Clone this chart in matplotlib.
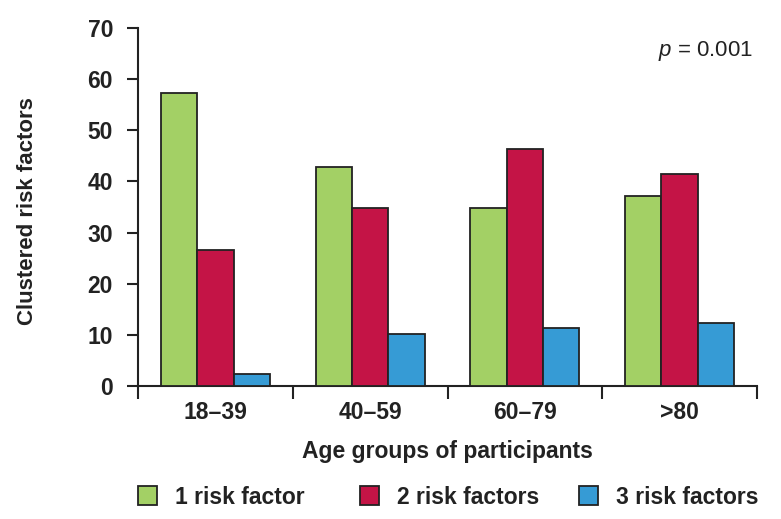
import matplotlib.pyplot as plt
import numpy as np
from matplotlib.patches import Patch

plt.rcParams['font.family'] = ['Liberation Sans', 'DejaVu Sans']
plt.rcParams['mathtext.fontset'] = 'custom'
plt.rcParams['mathtext.it'] = 'Liberation Sans:italic'
plt.rcParams['mathtext.rm'] = 'Liberation Sans'

age_groups = ['18\u201339', '40\u201359', '60\u201379', '>80']
series_names = ['1 risk factor', '2 risk factors', '3 risk factors']
one_risk = [57.3, 42.8, 34.8, 37.2]
two_risk = [26.6, 34.8, 46.3, 41.5]
three_risk = [2.3, 10.2, 11.3, 12.3]
colors = ['#a3d065', '#c41446', '#369bd5']
ink = '#222222'

fig = plt.figure(figsize=(7.81, 5.19), dpi=100)
ax = fig.add_axes([0.1767, 0.2563, 0.7926, 0.6897])

x = np.arange(len(age_groups))
w = 0.235
for i, vals in enumerate([one_risk, two_risk, three_risk]):
    ax.bar(x + (i - 1) * w, vals, w, color=colors[i], edgecolor=ink, linewidth=1.3, zorder=3)

ax.set_xlim(-0.5, 3.5)
ax.set_ylim(0, 70)
ax.set_yticks(range(0, 71, 10))
ax.set_xticks(x)
ax.set_xticklabels(age_groups)
ax.set_xticks(np.arange(-0.5, 3.6, 1), minor=True)
ax.tick_params(axis='x', which='major', length=0, pad=11)
ax.tick_params(axis='x', which='minor', length=9, width=1.5, direction='out', color=ink)
ax.tick_params(axis='y', length=8, width=1.5, direction='out', color=ink, pad=10)
for lab in ax.get_xticklabels() + ax.get_yticklabels():
    lab.set_fontsize(16.5)
    lab.set_fontweight('bold')
    lab.set_color(ink)

for s in ['top', 'right']:
    ax.spines[s].set_visible(False)
for s in ['left', 'bottom']:
    ax.spines[s].set_linewidth(1.5)
    ax.spines[s].set_color(ink)

ax.set_xlabel('Age groups of participants', fontsize=16.5, fontweight='bold', color=ink)
ax.xaxis.label.set_va('center')
ax.xaxis.set_label_coords(0.5, -0.182)
ax.set_ylabel('Clustered risk factors', fontsize=16, fontweight='bold', color=ink)
ax.yaxis.label.set_va('center')
ax.yaxis.set_label_coords(-0.179, 0.49)

ax.text(0.993, 0.937, '$p$ = 0.001', transform=ax.transAxes, ha='right', va='center', fontsize=16, color=ink)

# legend: three equally spaced entries
leg_x = [138 / 781, 360 / 781, 579 / 781]
for c, name, lx in zip(colors, series_names, leg_x):
    h = Patch(facecolor=c, edgecolor=ink, linewidth=1.3)
    leg = fig.legend([h], [name], loc='center left', bbox_to_anchor=(lx, 22 / 519),
                     frameon=False, borderpad=0, borderaxespad=0,
                     handlelength=0.85, handleheight=0.85, handletextpad=0.75,
                     prop={'size': 16.5, 'weight': 'bold'})
    for t in leg.get_texts():
        t.set_color(ink)

fig.savefig('out.png', dpi=100)
